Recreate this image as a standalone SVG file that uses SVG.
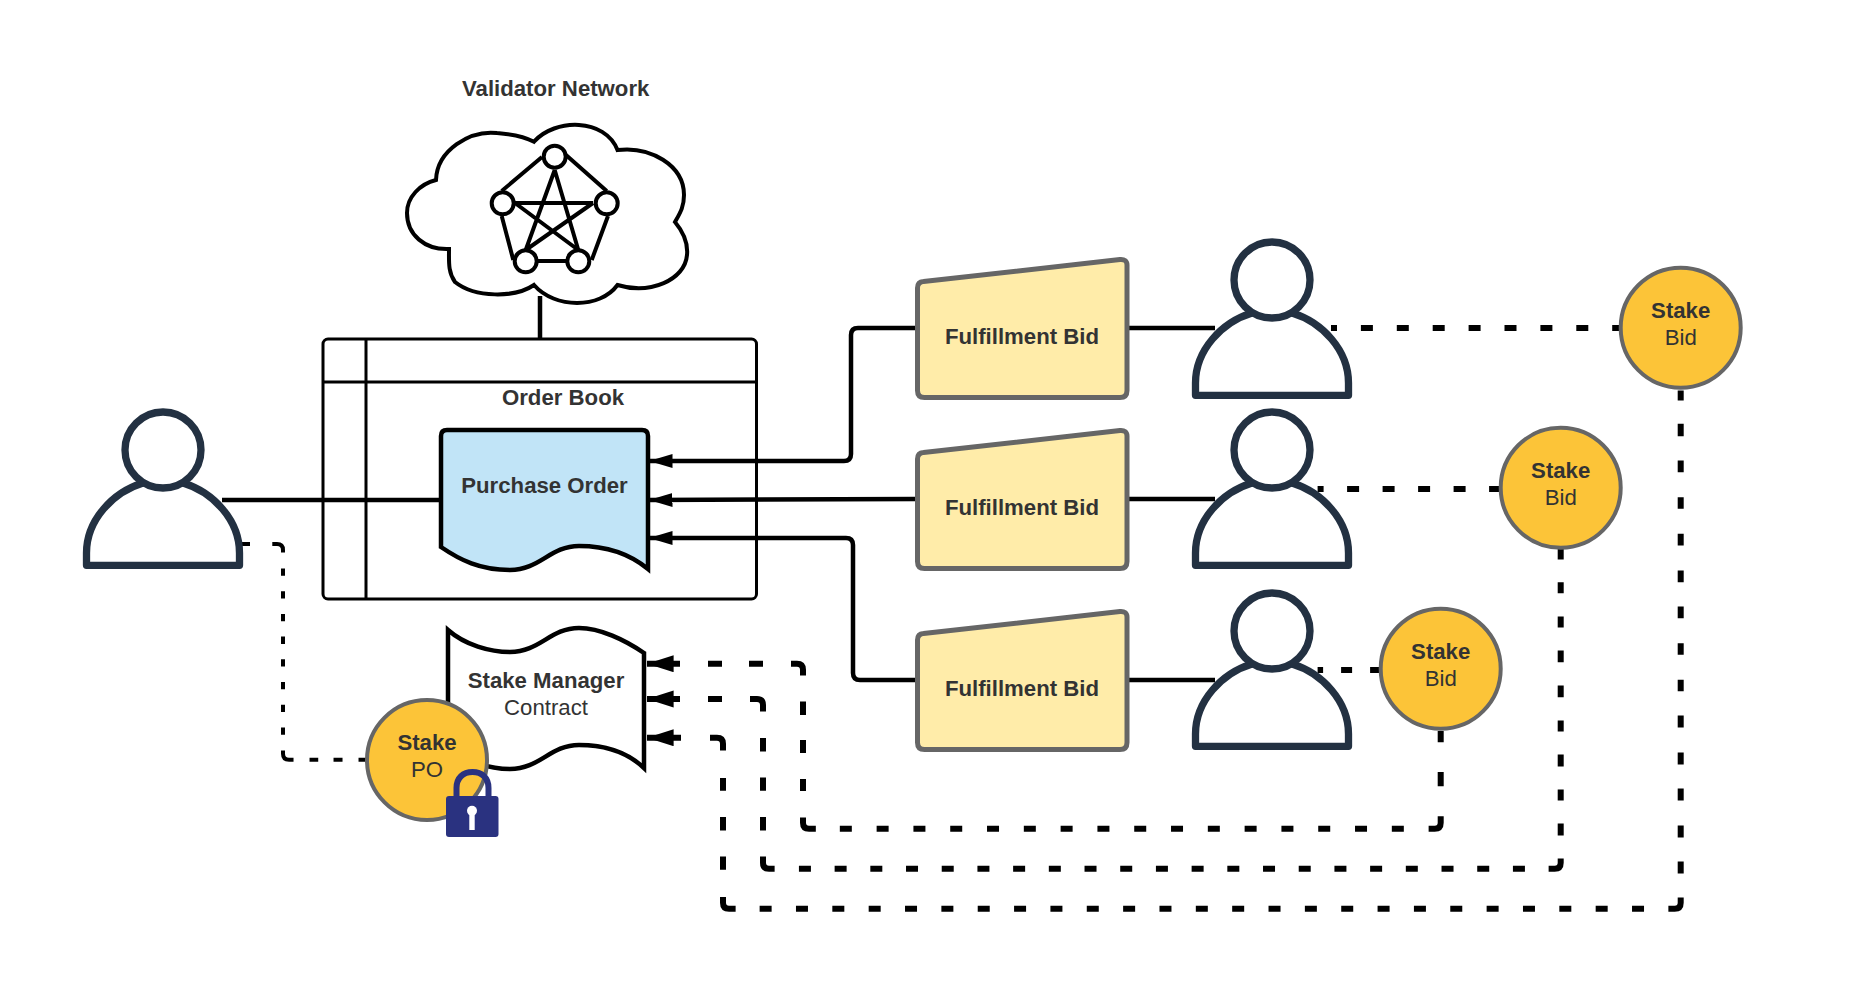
<svg xmlns="http://www.w3.org/2000/svg" width="1849" height="1007" viewBox="0 0 1849 1007">
<style>
text{font-family:"Liberation Sans",Arial,sans-serif;font-size:22.2px;fill:#333;text-anchor:middle}
.b{font-weight:700}
.person-head,.person-body{fill:#fff;stroke:#233142;stroke-width:7.3;stroke-linejoin:round}
.bid{fill:#ffeca9;stroke:#666;stroke-width:5;stroke-linejoin:round}
.stake{fill:#fcc438;stroke:#666;stroke-width:4}
.k{fill:none;stroke:#000}
.s{stroke-width:4.500}
.d{stroke-width:6}
.t{stroke-width:4}
.net{stroke:#000;stroke-width:4;fill:none}
.netn{fill:#fff;stroke:#000;stroke-width:4}
</style>
<defs>
<marker id="a" markerUnits="userSpaceOnUse" markerWidth="24" markerHeight="15" refX="23.500" refY="7" orient="auto"><path d="M0 0L23.500 7L0 14Z" fill="#000"/></marker>
<marker id="ad" markerUnits="userSpaceOnUse" markerWidth="27" markerHeight="18" refX="26.600" refY="8.500" orient="auto-start-reverse"><path d="M0 0L26.600 8.500L0 17Z" fill="#000"/></marker>
<g id="person">
<path class="person-body" d="M-76.500 115.300V103C-76.500 70-50 42-20 33H20C50 42 76.500 70 76.500 103V115.300Z"/>
<circle class="person-head" cx="0" cy="0" r="38"/>
</g>
<path id="bidshape" class="bid" d="M923.500 281.500L1120 259.500Q1127 259 1127 265V390.500Q1127 397.500 1120 397.500H924.500Q917.500 397.500 917.500 390.500V288Q917.500 282 923.500 281.500Z"/>
</defs>

<g id="connectors">
<path class="k s" d="M540 296V339"/>
<path class="k s" d="M222 500H441"/>
<path class="k s" d="M917 328H858Q851 328 851 335V454Q851 461 844 461H649" marker-end="url(#a)"/>
<path class="k s" d="M917 499L649 500" marker-end="url(#a)"/>
<path class="k s" d="M917 680H860Q853 680 853 673V545Q853 538 846 538H649" marker-end="url(#a)"/>
<path class="k s" d="M1128 328H1215"/>
<path class="k s" d="M1128 499H1215"/>
<path class="k s" d="M1128 680H1215"/>
<path class="k d" stroke-dasharray="12 23.900" stroke-dashoffset="6" d="M1331 328H1619"/>
<path class="k d" stroke-dasharray="12 23.500" stroke-dashoffset="6" d="M1317.600 489H1499"/>
<path class="k d" stroke-dasharray="11 18" stroke-dashoffset="5.500" d="M1317.600 670H1379"/>
<path class="k t" stroke-dasharray="8 22.300 16.700 16 7.300 15.400 7.300 15.400 7.300 15.400 7.300 15.400 7.300 15.400 7.300 15.400 7.300 15.400 7.300 15.700 17.300 16 8.700 15.300 9 16 7.700 100" d="M242 544H277Q283 544 283 550V753.700Q283 759.700 289 759.700H367"/>
<path class="k d" marker-start="url(#ad)" stroke-dasharray="33 28 14 27 14 28 21.400 26 13.300 25 13 26 12 26.700 21.400 24 12 24.800 12 24.800 12 24.800 12 24.800 12 24.800 12 24.800 12 24.800 12 24.800 12 24.800 12 24.800 12 24.800 12 24.800 12 24.800 12 24.800 12 24.800 12 24.800 21.900 30 14.300 29.700 11.300 100" d="M647 663.700H797Q803 663.700 803 669.700V822.700Q803 828.700 809 828.700H1434.700Q1440.700 828.700 1440.700 822.700V730"/>
<path class="k d" marker-start="url(#ad)" stroke-dasharray="33 28 14 28 23 26.600 13.400 26 13.300 26.300 13.400 26 21.300 24.300 12 23.700 12 23.700 12 23.700 12 23.700 12 23.700 12 23.700 12 23.700 12 23.700 12 23.700 12 23.700 12 23.700 12 23.700 12 23.700 12 23.700 12 23.700 12 23.700 12 23.700 12 23.700 12 23.700 12 23.700 12 23.700 19.700 23 12 23 11 23 12 23 11 23.300 11.700 23.300 11.700 23 11 23.300 11 22.700 11 100" d="M647 699H757Q763 699 763 705V862.700Q763 868.700 769 868.700H1554.700Q1560.700 868.700 1560.700 862.700V549"/>
<path class="k d" marker-start="url(#ad)" stroke-dasharray="34 29 23.300 27.600 12.700 26.300 13.400 26 13.300 27.300 21.700 24 12 24.350 12 24.350 12 24.350 12 24.350 12 24.350 12 24.350 12 24.350 12 24.350 12 24.350 12 24.350 12 24.350 12 24.350 12 24.350 12 24.350 12 24.350 12 24.350 12 24.350 12 24.350 12 24.350 12 24.350 12 24.350 12 24.350 12 24.350 12 24.350 12 24.350 21 24 12 24 12 25 12 24 12 25 12 24.300 11.400 25 11.600 25 11.700 24.300 11.700 25 11.700 25 11.600 25 11.700 24.300 12.400 23.300 10 100" d="M647 737.700H717Q723 737.700 723 743.700V902.700Q723 908.700 729 908.700H1674.700Q1680.700 908.700 1680.700 902.700V390"/>
</g>

<g id="validator-network">
<path d="M534 141.700C555 118 605 118 617.500 150C650 146 684 165 684 195C684 207 680 213 675 222C685 234 688 245 687 255C685 280 650 295 617.500 285C600 309 555 309 534 285C515 298 475 298 455 282C448 272 449 262 449 249C425 250 407 235 407 213C407 197 420 184 436 180C437 150 470 130 497 133C510 134 525 137 534 141.700Z" fill="#fff" stroke="#000" stroke-width="4"/>
<path class="net" d="M542 157L501.700 191M566 155L606.700 191M501.700 216L513.300 260M608 216L591.700 260M525.700 261H578.300M515 203H593M554.700 170L525.700 250M554.700 170L578.300 250M515 203L578.300 250M593 203L525.700 250"/>
<circle class="netn" cx="554.700" cy="156.700" r="11"/>
<circle class="netn" cx="502.700" cy="203.300" r="11"/>
<circle class="netn" cx="606.700" cy="203.300" r="11"/>
<circle class="netn" cx="525.700" cy="261.300" r="11"/>
<circle class="netn" cx="578.300" cy="261.300" r="11"/>
<text class="b" x="555.700" y="96">Validator Network</text>
</g>

<g id="order-book">
<rect x="323" y="339" width="433.500" height="260" rx="5" fill="none" stroke="#000" stroke-width="3"/>
<path d="M323 382H756.500M366 339V599" fill="none" stroke="#000" stroke-width="3"/>
<text class="b" x="563" y="405">Order Book</text>
</g>

<g id="purchase-order">
<path d="M447 430H642Q648 430 648 436V569C625 550 600 546 579 546C550 546 540 570 510 570C480 570 460 560 441 547V436Q441 430 447 430Z" fill="#c1e4f7" stroke="#000" stroke-width="4.500"/>
<text class="b" x="544.500" y="493">Purchase Order</text>
</g>

<g id="stake-manager">
<path d="M448 630C465 645 490 652 510 652C540 652 550 628 579 628C600 628 625 640 644 653V768C625 750 600 745 579 745C550 745 540 769 510 769C490 769 465 762 448 745Z" fill="#fff" stroke="#000" stroke-width="4.500"/>
<text class="b" x="546" y="688">Stake Manager</text>
<text x="546" y="715">Contract</text>
</g>

<g id="stake-po">
<circle class="stake" cx="427" cy="760" r="60"/>
<text class="b" x="427" y="750">Stake</text>
<text x="427" y="777">PO</text>
<path d="M456.500 798V788C456.500 778 463 772 472.500 772C482 772 488.500 778 488.500 788V798" fill="none" stroke="#2a3280" stroke-width="6"/>
<rect x="446" y="796" width="52.500" height="41" rx="3" fill="#2a3280"/>
<circle cx="472" cy="810.700" r="5" fill="#fff"/>
<rect x="469.300" y="811" width="5.400" height="19" fill="#fff"/>
</g>

<g id="bid-1"><use href="#bidshape"/><text class="b" x="1022" y="344">Fulfillment Bid</text></g>
<g id="bid-2"><use href="#bidshape" y="171"/><text class="b" x="1022" y="515">Fulfillment Bid</text></g>
<g id="bid-3"><use href="#bidshape" y="352"/><text class="b" x="1022" y="696">Fulfillment Bid</text></g>

<g id="person-buyer"><use href="#person" x="163" y="450"/></g>
<g id="person-1"><use href="#person" x="1272" y="280"/></g>
<g id="person-2"><use href="#person" x="1272" y="450"/></g>
<g id="person-3"><use href="#person" x="1272" y="631"/></g>

<g id="stake-bid-1"><circle class="stake" cx="1680.700" cy="327.700" r="60"/><text class="b" x="1680.700" y="318">Stake</text><text x="1680.700" y="345">Bid</text></g>
<g id="stake-bid-2"><circle class="stake" cx="1560.700" cy="487.700" r="60"/><text class="b" x="1560.700" y="478">Stake</text><text x="1560.700" y="505">Bid</text></g>
<g id="stake-bid-3"><circle class="stake" cx="1440.700" cy="668.700" r="60"/><text class="b" x="1440.700" y="659">Stake</text><text x="1440.700" y="686">Bid</text></g>
</svg>
